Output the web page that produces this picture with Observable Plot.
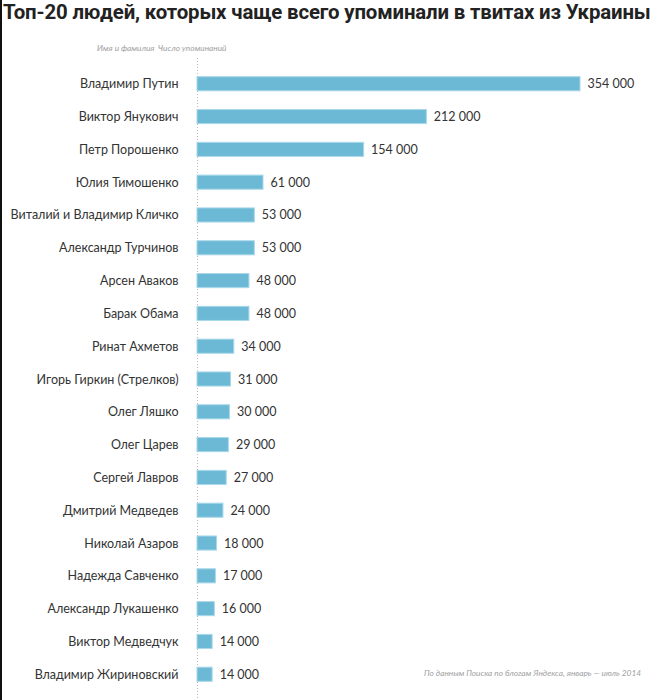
<!DOCTYPE html>
<html><head><meta charset="utf-8">
<script src="https://cdn.jsdelivr.net/npm/d3@7"></script>
<script src="https://cdn.jsdelivr.net/npm/@observablehq/plot@0.6"></script>
<style>
html,body{margin:0;padding:0;background:#fff;}
#wrap{position:relative;width:658px;height:700px;overflow:hidden;box-sizing:border-box;border-left:2px solid #111;}
#title{position:absolute;left:1px;top:0px;line-height:24px;white-space:nowrap;font-family:Roboto,sans-serif;font-weight:700;font-size:20.4px;color:#222;letter-spacing:-0.15px;}
.note{position:absolute;font-family:Lato,sans-serif;font-style:italic;font-size:8.3px;color:#a0a0a0;white-space:nowrap;}
#chart{position:absolute;left:-2px;top:58px;}
</style></head>
<body><div id="wrap">
<div id="title">Топ-20 людей, которых чаще всего упоминали в твитах из Украины</div>
<div class="note" style="left:95px;top:43px">Имя и фамилия</div>
<div class="note" style="left:156px;top:43px">Число упоминаний</div>
<div class="note" style="left:422px;top:668px">По данным Поиска по блогам Яндекса, январь — июль 2014</div>
<div id="chart"></div>
</div>
<script>
const names = ["Владимир Путин","Виктор Янукович","Петр Порошенко","Юлия Тимошенко","Виталий и Владимир Кличко","Александр Турчинов","Арсен Аваков","Барак Обама","Ринат Ахметов","Игорь Гиркин (Стрелков)","Олег Ляшко","Олег Царев","Сергей Лавров","Дмитрий Медведев","Николай Азаров","Надежда Савченко","Александр Лукашенко","Виктор Медведчук","Владимир Жириновский"];
const mentions = [354000,212000,154000,61000,53000,53000,48000,48000,34000,31000,30000,29000,27000,24000,18000,17000,16000,14000,14000];
const data = names.map((name, i) => ({name, value: mentions[i]}));
const fmt = v => d3.format(",")(v).replace(/,/g, "\u00a0");
const chart = Plot.plot({
  width: 658, height: 642,
  marginLeft: 197, marginRight: 78, marginTop: 0, marginBottom: 0,
  x: {domain: [0, 354000], axis: null},
  y: {domain: names, axis: null, padding: 0.57, round: false},
  style: {fontFamily: "Lato, sans-serif", fontSize: "12.5px", color: "#333", background: "transparent"},
  marks: [
    Plot.ruleX([0], {stroke: "#bbb", strokeDasharray: "1,2"}),
    Plot.barX(data, {y: "name", x: "value", fill: "#6cb9d6", stroke: "#a9d8ea", strokeWidth: 1}),
    Plot.text(data, {y: "name", x: 0, text: "name", textAnchor: "end", dx: -19, fill: "#333", fontSize: 12.5}),
    Plot.text(data, {y: "name", x: "value", text: d => fmt(d.value), textAnchor: "start", dx: 7, fill: "#333", fontSize: 12.5})
  ]
});
document.getElementById("chart").appendChild(chart);
</script>
</body></html>
